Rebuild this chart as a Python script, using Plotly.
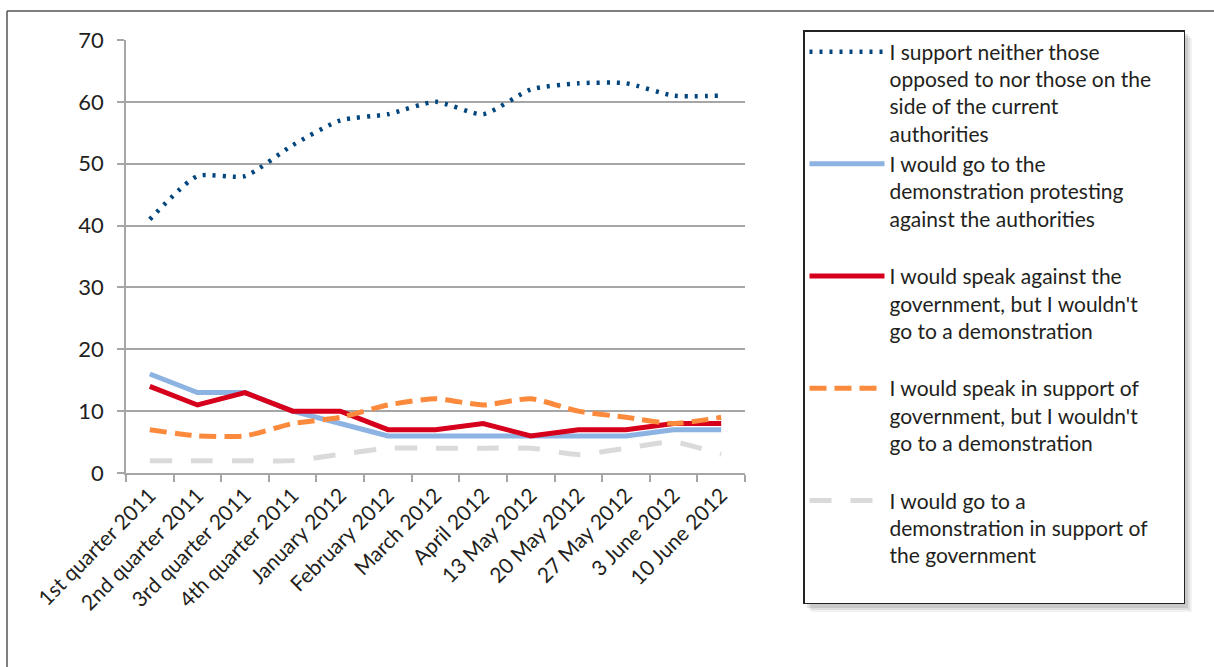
import plotly.graph_objects as go

categories = ["1st quarter 2011", "2nd quarter 2011", "3rd quarter 2011", "4th quarter 2011",
              "January 2012", "February 2012", "March 2012", "April 2012", "13 May 2012",
              "20 May 2012", "27 May 2012", "3 June 2012", "10 June 2012"]

neither = [41, 48, 48, 53, 57, 58, 60, 58, 62, 63, 63, 61, 61]
protest_against = [16, 13, 13, 10, 8, 6, 6, 6, 6, 6, 6, 7, 7]
speak_against = [14, 11, 13, 10, 10, 7, 7, 8, 6, 7, 7, 8, 8]
speak_support = [7, 6, 6, 8, 9, 11, 12, 11, 12, 10, 9, 8, 9]
demo_support = [2, 2, 2, 2, 3, 4, 4, 4, 4, 3, 4, 5, 3]

NB = "\u00a0"
names = [
    "I support neither those<br>opposed to nor those on the" + NB * 5 + "<br>side of the current<br>authorities",
    "I would go to the<br>demonstration protesting<br>against the authorities<br>" + NB,
    "I would speak against the<br>government, but I wouldn't<br>go to a demonstration<br>" + NB,
    "I would speak in support of<br>government, but I wouldn't<br>go to a demonstration<br>" + NB,
    "I would go to a<br>demonstration in support of<br>the government<br>" + NB,
]

W, H = 1214, 667
L, R, T, B = 126, 745, 40, 473  # plot area in pixels

def px(x):
    return (x - L) / (R - L)

def py(y):
    return (B - y) / (B - T)

FONT = "Lato"
LEG_TOP, LEG_BOT, LEG_L, LEG_R = 30, 604, 803, 1184

fig = go.Figure()
fig.add_trace(go.Scatter(x=categories, y=neither, name=names[0], mode="lines",
                         line=dict(color="#00457d", width=4.5, dash="3px,7px", shape="spline", smoothing=0.6)))
fig.add_trace(go.Scatter(x=categories, y=protest_against, name=names[1], mode="lines",
                         line=dict(color="#8db3e2", width=5)))
fig.add_trace(go.Scatter(x=categories, y=speak_against, name=names[2], mode="lines",
                         line=dict(color="#d6001c", width=5)))
fig.add_trace(go.Scatter(x=categories, y=speak_support, name=names[3], mode="lines",
                         line=dict(color="#fb8a3c", width=5, dash="17px,8px", shape="spline", smoothing=0.6)))
fig.add_trace(go.Scatter(x=categories, y=demo_support, name=names[4], mode="lines",
                         line=dict(color="#dadadb", width=5, dash="22px,19px", shape="spline", smoothing=0.6)))

shapes = []
# legend shadow
for i, op in enumerate([0.05, 0.07, 0.10]):
    off = 8 - 2 * i
    shapes.append(dict(type="rect", xref="paper", yref="paper",
                       x0=px(LEG_L + off), x1=px(LEG_R + off), y0=py(LEG_BOT + off), y1=py(LEG_TOP + off),
                       line=dict(width=0), fillcolor="rgba(0,0,0,%s)" % op, layer="below"))
# outer frame
shapes.append(dict(type="line", xref="paper", yref="paper", x0=px(7), x1=px(1230), y0=py(11), y1=py(11),
                   line=dict(color="#555555", width=1.5)))
shapes.append(dict(type="line", xref="paper", yref="paper", x0=px(7), x1=px(7), y0=py(11), y1=py(700),
                   line=dict(color="#555555", width=1.5)))

fig.update_layout(
    width=W, height=H,
    margin=dict(l=L, r=W - R, t=T, b=H - B, pad=0),
    paper_bgcolor="white", plot_bgcolor="white",
    font=dict(family=FONT, color="#231f20", size=20),
    shapes=shapes,
    showlegend=True,
    legend=dict(x=px(LEG_L), y=py(LEG_TOP), xanchor="left", yanchor="top",
                bgcolor="white", bordercolor="#222222", borderwidth=1.5,
                font=dict(family=FONT, size=21, color="#231f20"),
                itemwidth=75, valign="top", tracegroupgap=0, maxheight=640,
                itemclick=False),
    xaxis=dict(type="category", tickangle=-45, tickfont=dict(size=21),
               showline=True, linecolor="#a6a6a6", linewidth=1.5,
               ticks="outside", tickson="boundaries", ticklen=7, tickcolor="#a6a6a6", tickwidth=1.5,
               showgrid=False, range=[-0.5, 12.5], fixedrange=True),
    yaxis=dict(range=[0, 70], tickvals=[0, 10, 20, 30, 40, 50, 60, 70], tickfont=dict(size=22),
               showline=True, linecolor="#a6a6a6", linewidth=1.5,
               ticks="outside", ticklen=7, tickcolor="#a6a6a6", tickwidth=1.5, ticklabelstandoff=9,
               showgrid=True, gridcolor="#a6a6a6", gridwidth=1.5, zeroline=False, fixedrange=True),
)

fig.write_html("out.html", config={"displayModeBar": False},
               post_script="document.body.style.margin='0';document.body.style.overflow='hidden';")
